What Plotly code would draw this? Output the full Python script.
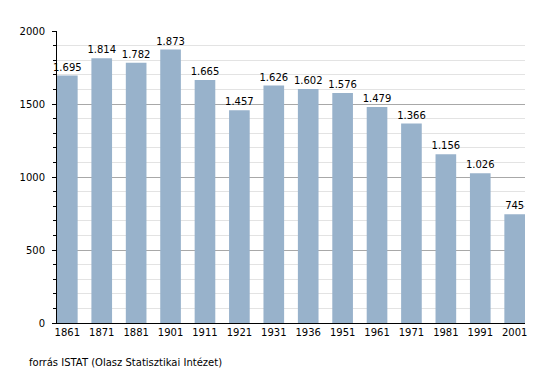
import plotly.graph_objects as go

years = ["1861", "1871", "1881", "1901", "1911", "1921", "1931", "1936",
         "1951", "1961", "1971", "1981", "1991", "2001"]
population = [1695, 1814, 1782, 1873, 1665, 1457, 1626, 1602, 1576, 1479,
              1366, 1156, 1026, 745]
value_labels = ["1.695", "1.814", "1.782", "1.873", "1.665", "1.457", "1.626",
                "1.602", "1.576", "1.479", "1.366", "1.156", "1.026", "745"]
y_ticks = [0, 500, 1000, 1500, 2000]
source_text = "forrás ISTAT (Olasz Statisztikai Intézet)"

FONT = "DejaVu Sans"

fig = go.Figure(
    go.Bar(
        x=years,
        y=population,
        text=value_labels,
        textposition="outside",
        constraintext="none",
        textfont=dict(family=FONT, size=10, color="#000000"),
        cliponaxis=False,
        marker=dict(color="#98B2CB", line=dict(width=0)),
        width=0.6,
    )
)

fig.update_layout(
    width=547,
    height=365,
    margin=dict(l=42, r=30, t=23, b=50),
    paper_bgcolor="white",
    plot_bgcolor="white",
    showlegend=False,
    uniformtext=dict(minsize=10, mode="show"),
    font=dict(family=FONT, size=10, color="#000000"),
    xaxis=dict(
        type="category",
        range=[-0.3, 13.3],
        showline=True,
        linecolor="#000000",
        linewidth=1,
        ticks="",
        showgrid=False,
        tickfont=dict(family=FONT, size=10, color="#000000"),
    ),
    yaxis=dict(
        range=[0, 2000],
        tickvals=y_ticks,
        showline=True,
        linecolor="#000000",
        linewidth=1,
        ticks="outside",
        ticklen=4,
        tickcolor="#000000",
        ticklabelstandoff=5,
        showgrid=True,
        gridcolor="#A8A8A8",
        gridwidth=1,
        zeroline=False,
        tickfont=dict(family=FONT, size=10, color="#000000"),
        minor=dict(
            dtick=100,
            ticks="outside",
            ticklen=3,
            tickcolor="#000000",
            showgrid=True,
            gridcolor="#E3E3E3",
            gridwidth=1,
        ),
    ),
    annotations=[
        dict(
            text=source_text,
            xref="paper",
            yref="paper",
            x=-30 / 475,
            y=-39 / 292,
            xanchor="left",
            yanchor="middle",
            showarrow=False,
            font=dict(family=FONT, size=10, color="#000000"),
        )
    ],
)

fig.write_html("out.html")
